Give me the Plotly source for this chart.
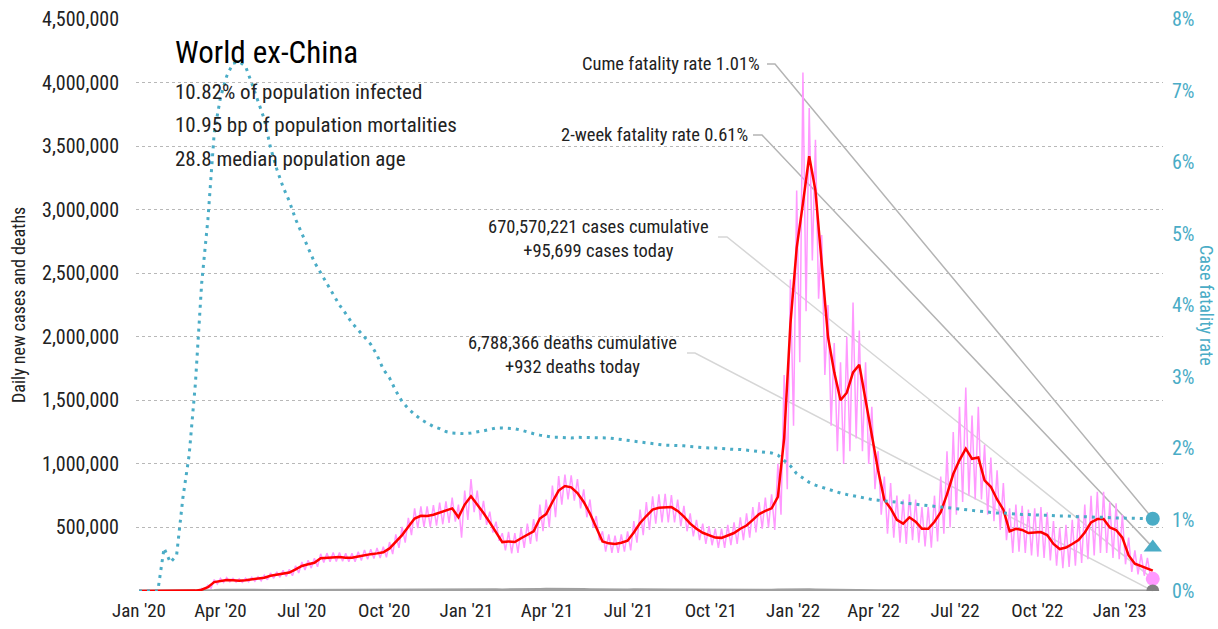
import plotly.graph_objects as go
import pandas as pd

# ---------------- data ----------------
WEEK0 = "2020-01-01"          # weekly samples start here, 7-day step
LAST_DATE = "2023-02-07"      # last reported day

# 7-day average new cases, thousands (weekly samples)
cases_avg_k = [
    0, 0, 0, 0, 0, 0, 0, 0, 0, 3,
    10, 30, 70, 80, 87, 84, 80, 85, 90, 95,
    105, 120, 128, 138, 145, 170, 197, 210, 222, 258,
    262, 266, 267, 262, 262, 272, 284, 290, 296, 305,
    335, 390, 440, 505, 570, 592, 590, 600, 615, 630,
    650, 580, 680, 745, 680, 614, 540, 460, 385, 390,
    385, 415, 445, 470, 570, 605, 700, 790, 826, 815,
    770, 700, 610, 500, 390, 375, 370, 380, 395, 460,
    535, 590, 640, 655, 660, 660, 630, 585, 530, 490,
    458, 440, 420, 418, 440, 456, 490, 515, 560, 605,
    630, 650, 740, 1200, 2100, 2700, 3050, 3420, 3150, 2550,
    2000, 1720, 1500, 1560, 1720, 1780, 1500, 1220, 950, 716,
    650, 560, 530, 580, 545, 490, 490, 545, 620, 760,
    920, 1030, 1120, 1040, 1050, 870, 820, 720, 640, 470,
    490, 480, 456, 460, 464, 440, 370, 330, 342, 370,
    400, 460, 540, 566, 566, 500, 480, 420, 280, 215,
    195, 180,
]
# daily new cases, weekly high (weekday) and low (weekend), thousands
cases_hi_k = [
    0, 0, 0, 0, 0, 0, 0, 0, 0, 0,
    20, 45, 90, 100, 105, 100, 95, 100, 108, 112,
    125, 142, 150, 162, 170, 198, 228, 242, 258, 292,
    298, 302, 302, 296, 296, 308, 322, 328, 338, 348,
    385, 445, 505, 575, 650, 665, 665, 675, 695, 705,
    735, 680, 790, 880, 790, 710, 625, 545, 455, 465,
    455, 495, 530, 565, 680, 720, 830, 905, 915, 910,
    880, 800, 720, 590, 470, 445, 435, 445, 470, 550,
    640, 700, 745, 760, 765, 755, 720, 670, 610, 560,
    530, 510, 490, 490, 520, 540, 580, 610, 660, 700,
    735, 760, 1000, 1700, 2450, 3150, 4080, 3800, 3550, 2800,
    2250, 1950, 1800, 2000, 2270, 2050, 1800, 1450, 1100, 900,
    850, 750, 720, 760, 720, 660, 660, 750, 900, 1100,
    1250, 1450, 1600, 1380, 1450, 1150, 1050, 950, 850, 650,
    680, 670, 640, 650, 660, 620, 550, 500, 520, 560,
    600, 680, 750, 780, 780, 700, 690, 600, 420, 320,
    290, 260,
]
cases_lo_k = [
    0, 0, 0, 0, 0, 0, 0, 0, 0, 0,
    5, 20, 55, 68, 72, 70, 68, 72, 76, 80,
    88, 100, 108, 115, 120, 142, 165, 180, 190, 225,
    230, 232, 235, 230, 230, 240, 250, 255, 260, 265,
    290, 340, 380, 440, 495, 505, 505, 515, 525, 535,
    545, 420, 560, 620, 560, 520, 460, 395, 320, 295,
    300, 340, 370, 390, 470, 500, 580, 680, 720, 710,
    650, 580, 500, 400, 310, 300, 300, 310, 320, 380,
    440, 480, 530, 540, 540, 540, 510, 470, 430, 400,
    370, 360, 340, 340, 360, 370, 400, 420, 460, 490,
    500, 480, 600, 800, 1300, 1800, 2200, 2600, 2300, 1700,
    1300, 1100, 1000, 1100, 1200, 1100, 1000, 800, 600, 450,
    420, 380, 370, 400, 380, 350, 340, 390, 450, 500,
    600, 700, 750, 720, 720, 600, 550, 480, 400, 300,
    310, 300, 280, 270, 260, 240, 200, 180, 190, 200,
    220, 250, 280, 300, 300, 260, 250, 210, 150, 130,
    120, 110,
]
# daily deaths, thousands (weekly samples)
deaths_k = [
    0, 0, 0, 0, 0, 0, 0, 0, 0, 0,
    0.5, 1.5, 4, 6.5, 7, 6.5, 5.8, 5.2, 4.8, 4.5,
    4.4, 4.4, 4.6, 4.8, 5.2, 5.6, 5.8, 6, 6, 6,
    5.8, 5.6, 5.4, 5.3, 5.2, 5.3, 5.4, 5.6, 5.8, 6.2,
    7, 8, 9.5, 10.5, 11, 11.5, 11.8, 12, 12.2, 12.5,
    12.5, 12, 13, 14, 14, 13, 11.5, 10, 8.8, 8.5,
    8.8, 9.5, 10.5, 11.5, 12, 13, 13.5, 13.8, 13.5, 12.8,
    12, 11, 10, 9, 8, 7.6, 7.8, 8.2, 8.6, 9.2,
    9.8, 10, 9.8, 9.2, 8.5, 8, 7.6, 7.2, 7, 6.8,
    6.8, 6.9, 7, 7.1, 7.2, 7.1, 6.8, 6.5, 6.3, 6.2,
    6.2, 6.5, 7.3, 8.5, 9.5, 10.2, 10, 9.3, 8.3, 7.2,
    6.2, 5.3, 4.6, 4.1, 3.7, 3.3, 3, 2.6, 2.3, 2.1,
    1.9, 1.9, 1.9, 1.8, 1.8, 1.8, 1.9, 2.1, 2.3, 2.5,
    2.7, 2.8, 2.8, 2.7, 2.6, 2.4, 2.2, 2, 1.8, 1.6,
    1.5, 1.4, 1.4, 1.3, 1.3, 1.3, 1.2, 1.2, 1.3, 1.4,
    1.5, 1.6, 1.7, 1.8, 1.8, 1.6, 1.5, 1.3, 1.2, 1.1,
    1.0, 0.95,
]
# cumulative case fatality rate, percent (weekly samples)
cfr_k = [
    0, 0, 0, 0, 0.6, 0.4, 0.5, 1.3, 1.9, 2.9,
    4.3, 5.2, 6.4, 6.9, 7.2, 7.38, 7.4, 7.34, 7.1, 6.85,
    6.6, 6.2, 5.9, 5.65, 5.45, 5.2, 5.0, 4.8, 4.6, 4.45,
    4.3, 4.15, 4.0, 3.88, 3.75, 3.65, 3.55, 3.45, 3.3, 3.1,
    2.98, 2.8, 2.65, 2.55, 2.47, 2.4, 2.35, 2.3, 2.27, 2.23,
    2.21, 2.2, 2.2, 2.21, 2.22, 2.24, 2.26, 2.28, 2.28, 2.28,
    2.27, 2.25, 2.22, 2.2, 2.18, 2.16, 2.15, 2.15, 2.14, 2.14,
    2.15, 2.15, 2.15, 2.15, 2.15, 2.14, 2.13, 2.12, 2.11, 2.09,
    2.08, 2.07, 2.06, 2.05, 2.04, 2.04, 2.03, 2.03, 2.02, 2.01,
    2.01, 2.0, 2.0, 1.99, 1.99, 1.98, 1.98, 1.97, 1.97, 1.96,
    1.95, 1.93, 1.9, 1.83, 1.75, 1.64, 1.58, 1.52, 1.48, 1.45,
    1.42, 1.39, 1.37, 1.35, 1.33, 1.31, 1.29, 1.28, 1.27, 1.26,
    1.25, 1.24, 1.23, 1.22, 1.21, 1.2, 1.19, 1.18, 1.17, 1.16,
    1.15, 1.14, 1.13, 1.12, 1.11, 1.1, 1.1, 1.09, 1.09, 1.08,
    1.08, 1.07, 1.07, 1.06, 1.06, 1.06, 1.05, 1.05, 1.05, 1.04,
    1.04, 1.04, 1.03, 1.03, 1.03, 1.02, 1.02, 1.02, 1.02, 1.01,
    1.01, 1.01,
]
last_avg_cases = 160000
cases_today = 95699
deaths_today = 932
cume_cfr = 1.01
two_week_cfr = 0.61

title_text = "World ex-China"
info_lines = ["10.82% of population infected",
              "10.95 bp of population mortalities",
              "28.8 median population age"]
label_cume = "Cume fatality rate 1.01%"
label_2wk = "2-week fatality rate 0.61%"
label_cases = "670,570,221 cases cumulative<br>+95,699 cases today"
label_deaths = "6,788,366 deaths cumulative<br>+932 deaths today"

# ---------------- styling ----------------
FONT = "Roboto Condensed, DejaVu Sans Condensed, Liberation Sans Narrow, Arial Narrow, sans-serif"
TEAL = "#4aacc6"
PINK = "#ff99ff"
RED = "#ff0000"
GREY = "#a0a0a0"
TXT = "#222222"
Y_MAX = 4.5e6
Y2_MAX = 0.08
X_START = pd.Timestamp("2019-12-28 15:00")
X_END = pd.Timestamp("2023-02-18 10:00")

# ---------------- build series ----------------
n = len(cases_avg_k)
week_dates = pd.date_range(WEEK0, periods=n, freq="7D")
last = pd.Timestamp(LAST_DATE)
k_dates = list(week_dates) + [last]

avg_vals = [v * 1000 for v in cases_avg_k] + [last_avg_cases]
death_vals = [v * 1000 for v in deaths_k] + [deaths_today]
cfr_vals = [v / 100 for v in cfr_k] + [cume_cfr / 100]

pink_x, pink_y = [], []
for d, hi, lo in zip(week_dates, cases_hi_k, cases_lo_k):
    pink_x += [d, d + pd.Timedelta(hours=84)]
    pink_y += [hi * 1000, lo * 1000]
pink_x.append(last)
pink_y.append(cases_today)

fig = go.Figure()
fig.add_trace(go.Scatter(x=pink_x, y=pink_y, mode="lines",
                         line=dict(color=PINK, width=1.5), hoverinfo="skip"))
fig.add_trace(go.Scatter(x=k_dates, y=death_vals, mode="lines",
                         line=dict(color=GREY, width=3), hoverinfo="skip"))
fig.add_trace(go.Scatter(x=k_dates, y=cfr_vals, mode="lines", yaxis="y2",
                         line=dict(color=TEAL, width=3, dash="3px,5px"),
                         hoverinfo="skip"))
fig.add_trace(go.Scatter(x=k_dates, y=avg_vals, mode="lines",
                         line=dict(color=RED, width=2.5), hoverinfo="skip"))

# end markers
fig.add_trace(go.Scatter(x=[last], y=[cume_cfr / 100], yaxis="y2", mode="markers",
                         marker=dict(color=TEAL, size=14, symbol="circle")))
fig.add_trace(go.Scatter(x=[last], y=[two_week_cfr / 100], yaxis="y2", mode="markers",
                         marker=dict(color=TEAL, size=16, symbol="triangle-up")))
fig.add_trace(go.Scatter(x=[last], y=[cases_today], mode="markers",
                         marker=dict(color=PINK, size=14, symbol="circle")))
fig.add_trace(go.Scatter(x=[last], y=[deaths_today], mode="markers",
                         marker=dict(color="#808080", size=13, symbol="circle")))

# ---------------- layout helpers ----------------
L, R, T, B = 136, 55, 19, 38
W, H = 1218, 629
PL, PR, PT, PB = L, W - R, T, H - B


def px(xp):
    return (xp - PL) / (PR - PL)


def py(yp):
    return (PB - yp) / (PB - PT)


span = (X_END - X_START)


def date_to_paper(d):
    return (pd.Timestamp(d) - X_START) / span


anns = []
anns.append(dict(text=title_text, x=px(173), y=py(52), xref="paper", yref="paper",
                 xanchor="left", yanchor="middle", showarrow=False,
                 font=dict(family=FONT, size=31, color="#000")))
for i, t in enumerate(info_lines):
    anns.append(dict(text=t, x=px(173), y=py(92 + 33.5 * i), xref="paper", yref="paper",
                     xanchor="left", yanchor="middle", showarrow=False,
                     font=dict(family=FONT, size=21, color=TXT)))

ann_font = dict(family=FONT, size=18.5, color=TXT)
anns.append(dict(text=label_cume, x=px(762), y=py(64), xref="paper", yref="paper",
                 xanchor="right", yanchor="middle", showarrow=False, font=ann_font))
anns.append(dict(text=label_2wk, x=px(750), y=py(135), xref="paper", yref="paper",
                 xanchor="right", yanchor="middle", showarrow=False, font=ann_font))
anns.append(dict(text=label_cases, x=px(598), y=py(239), xref="paper", yref="paper",
                 xanchor="center", yanchor="middle", showarrow=False, font=ann_font,
                 align="center"))
anns.append(dict(text=label_deaths, x=px(572), y=py(355), xref="paper", yref="paper",
                 xanchor="center", yanchor="middle", showarrow=False, font=ann_font,
                 align="center"))
# axis titles
anns.append(dict(text="Daily new cases and deaths", x=px(18), y=0.5, xref="paper",
                 yref="paper", textangle=-90, showarrow=False,
                 xanchor="center", yanchor="middle",
                 font=dict(family=FONT, size=18, color=TXT)))
anns.append(dict(text="Case fatality rate", x=px(1207), y=0.5, xref="paper",
                 yref="paper", textangle=90, showarrow=False,
                 xanchor="center", yanchor="middle",
                 font=dict(family=FONT, size=18, color=TEAL)))

# connector lines from labels to end markers
end_xp = date_to_paper(last)
connectors = [
    ((767, 64), (775, 64), cume_cfr / 100 / Y2_MAX, "#b4b4b4"),
    ((753, 135), (762, 135), two_week_cfr / 100 / Y2_MAX, "#b4b4b4"),
    ((718, 237), (727, 237), cases_today / Y_MAX, "#d6d6d6"),
    ((687, 353), (695, 353), deaths_today / Y_MAX, "#d6d6d6"),
]
shapes = []
for (a, b, yend, col) in connectors:
    path = "M {:.5f},{:.5f} L {:.5f},{:.5f} L {:.5f},{:.5f}".format(
        px(a[0]), py(a[1]), px(b[0]), py(b[1]), end_xp, yend)
    shapes.append(dict(type="path", path=path, xref="paper", yref="paper",
                       line=dict(color=col, width=1.5), layer="below"))

fig.update_layout(
    width=W, height=H, autosize=False,
    margin=dict(l=L, r=R, t=T, b=B, pad=0, autoexpand=False),
    paper_bgcolor="white", plot_bgcolor="white",
    showlegend=False,
    annotations=anns,
    shapes=shapes,
    xaxis=dict(range=[X_START, X_END], type="date", showgrid=False,
               zeroline=False, showline=False, ticks="", automargin=False,
               tick0="2020-01-01", dtick="M3", tickformat="%b '%y",
               tickfont=dict(family=FONT, size=19, color=TXT),
               ticklabelstandoff=6),
    yaxis=dict(range=[0, Y_MAX], tickvals=[i * 500000 for i in range(10)],
               ticktext=["" if i == 0 else "{:,}".format(i * 500000) for i in range(10)],
               showgrid=True, gridcolor="#b8b8b8", griddash="dot", gridwidth=1,
               zeroline=False, showline=False, ticks="", automargin=False,
               tickfont=dict(family=FONT, size=20, color=TXT),
               ticklabelstandoff=16),
    yaxis2=dict(range=[0, Y2_MAX], overlaying="y", side="right",
                tickvals=[i / 100 for i in range(9)],
                ticktext=["{}%".format(i) for i in range(9)],
                showgrid=False, zeroline=False, showline=False, ticks="",
                automargin=False,
                tickfont=dict(family=FONT, size=20, color=TEAL),
                ticklabelstandoff=8),
)

fig.write_html("out.html",
               config={"displayModeBar": False},
               post_script="document.body.style.margin='0px';"
                           "document.body.style.overflow='hidden';")
